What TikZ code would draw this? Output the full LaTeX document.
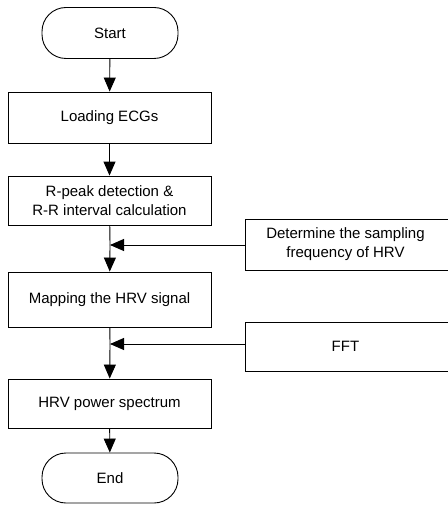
\documentclass[tikz,border=0pt]{standalone}
\usepackage{fontspec}
\setmainfont{Liberation Sans}
\usetikzlibrary{arrows.meta}
\begin{document}
\begin{tikzpicture}[x=1pt,y=-1pt,
  every node/.style={font=\fontsize{15}{19}\selectfont, align=center, inner sep=0pt},
  procbox/.style={draw, line width=0.9pt, minimum width=203pt},
  termbox/.style={draw, line width=0.9pt, rounded corners=24pt, minimum width=136pt, minimum height=51pt},
  sidebox/.style={draw, line width=0.9pt, minimum width=204pt},
  flow/.style={line width=0.9pt, -{Triangle[length=14pt,width=12pt]}},
  link/.style={line width=0.9pt}]
\useasboundingbox (0,0) rectangle (447,505);
\node[termbox] (start) at (110,33) {Start};
\node[procbox, minimum height=51pt] (load) at (109.5,117.5) {Loading ECGs};
\node[procbox, minimum height=49pt] (rpeak) at (109.5,200.5) {R-peak detection \&\\R-R interval calculation};
\node[procbox, minimum height=55pt] (map) at (109.5,299.5) {Mapping the HRV signal};
\node[procbox, minimum height=49pt] (hrv) at (109.5,403.5) {HRV power spectrum};
\node[termbox, minimum height=50pt] (end) at (110,478) {End};
\node[sidebox, minimum height=51pt, anchor=west] (samp) at (245,244.5) {\hspace*{-4pt}Determine the sampling\\\hspace*{-4pt}frequency of HRV};
\node[sidebox, minimum height=49pt, anchor=west] (fft) at (245,346.5) {\hspace*{-4pt}FFT};
\coordinate (j1) at (110,245);
\coordinate (j2) at (110,344);
\draw[flow] (start) -- (load);
\draw[flow] (load) -- (rpeak);
\draw[link] (rpeak) -- (j1);
\draw[flow] (j1) -- (map);
\draw[flow] (samp.west |- j1) -- (j1);
\draw[link] (map) -- (j2);
\draw[flow] (j2) -- (hrv);
\draw[flow] (fft.west |- j2) -- (j2);
\draw[flow] (hrv) -- (end);
\end{tikzpicture}
\end{document}
